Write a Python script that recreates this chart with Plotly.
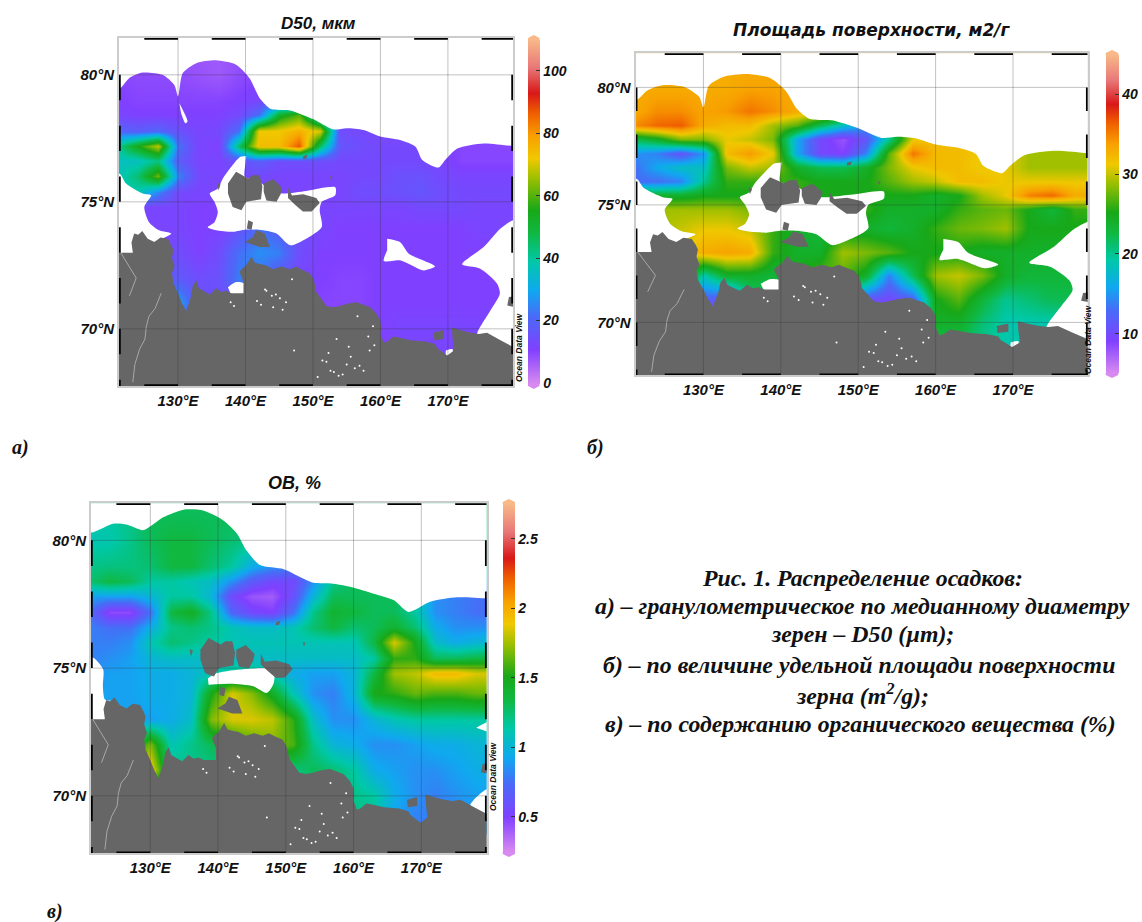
import plotly.graph_objects as go

LONS = [121,124,127,130,133,136,139,142,145,148,151,154,157,160,163,166,169,172,175,178,181]
LATS = [81,80,79,78.4,77.8,77.2,76.6,76,75.4,74.8,74,73,72,71,70,69]
LON_RANGE = [121.25,179.65]
LAT_RANGE = [67.75,81.45]

D50 = [
 [10,10,10,8,7,7,8,10,11,11,11,11,11,11,11,11,11,11,11,11,11],
 [10,9,9,9,8,7,9,10,11,11,11,11,11,11,11,11,11,11,11,11,11],
 [11,10,10,10,10,10,11,12,14,14,13,12,12,12,12,12,12,10,10,10,10],
 [12,11,11,11,11,11,13,22,52,60,28,13,12,12,12,12,11,10,10,10,10],
 [20,18,20,15,12,13,22,72,72,76,70,14,13,12,12,12,11,10,10,10,10],
 [40,55,68,22,12,11,45,74,74,87,45,16,14,13,13,13,12,10,10,10,10],
 [36,36,42,18,12,12,15,18,14,14,14,13,13,13,13,13,12,10,10,10,10],
 [36,44,62,25,13,12,13,13,12,12,12,12,13,13,15,15,13,12,12,12,12],
 [38,38,25,13,12,12,12,12,12,12,12,12,14,14,15,16,14,13,13,13,13],
 [12,12,12,12,11,11,12,12,12,12,12,12,12,12,12,13,13,13,12,12,12],
 [12,12,12,12,11,11,15,22,18,14,12,11,11,11,11,11,11,11,12,12,12],
 [12,12,12,14,11,14,22,26,24,14,11,11,11,11,11,11,11,11,11,11,11],
 [17,17,17,17,14,15,24,22,16,12,11,10,10,11,11,11,11,11,11,11,11],
 [29,29,29,29,15,14,14,14,14,11,10,10,10,11,11,11,11,11,11,11,11],
 [20,20,20,20,14,14,14,14,14,11,10,10,10,11,12,12,12,12,12,12,12],
 [20,20,20,20,14,14,14,14,14,11,10,10,10,11,12,12,12,12,12,12,12],
]

AREA = [
 [33,33,33,33,33,33,33,33,33,33,33,33,33,33,33,33,33,33,33,33,33],
 [33,33,33,33,33,33.5,33.5,33,32,32,32,32,32,32,32,32,32,32,32,32,32],
 [33,34.5,34.5,33.5,34,35.5,34.5,33,32,30,30,30,30,30,30,30,30,30,30,30,30],
 [34.5,36,36.5,33,32,32,29,27,22,18,15,20,30,30,30,30,30,30,30,30,30],
 [22,24,28,28,31,30,28,16,10,8,11,20,31,32,32,32,32,30,30,30,30],
 [15,14,11,15,32,34,31,16,10,9,14,27,35.5,32,32,31,31,29,29,29,29],
 [13,16,18,18,28,30,29,24,22,22,24,28,31,32,32,31,31,29,29,29,29],
 [13,13,14,20,26,26,26,26,25,25,25,27,29,30,32,32,31,31,31,31,31],
 [24,24,24,25,25,25,26,26,25,25,25,25,25,24,25,29,31,35,36,33,33],
 [29,29,29,29,29,28,27,26,26,26,26,24,24,24,26,27,27.5,25,23,26,26],
 [29,29,30,31,31,30,26,24,23,24,24,23,24,26,27.5,28,29,25,25,25,25],
 [30,30,30,33,33.5,33,26,24,24,29,28,27,25,25,25,24,24,24,24,24,24],
 [28,28,28,19,24,24,23,25,27,27,24,14,22,29,30,28,24,23,23,23,23],
 [12,12,12,12,11,20,22,24,24,20,11,10,12,25,27,23,20,21,22,22,22],
 [12,12,12,12,11,20,22,24,24,20,11,10,12,24,24,21,19,19,19,20,20],
 [12,12,12,12,11,20,22,24,24,20,11,10,12,22,22,20,19,19,19,20,20],
]

OM = [
 [1.15,1.15,1.2,1.3,1.3,1.3,1.3,1.3,1.3,1.3,1.3,1.3,1.3,1.3,1.3,1.3,1.3,1.3,1.3,1.3,1.3],
 [1.1,1.12,1.2,1.3,1.35,1.35,1.3,1.25,1.2,1.2,1.2,1.2,1.2,1.2,1.2,1.2,1.2,1.2,1.2,1.2,1.2],
 [1.2,1.22,1.22,1.25,1.35,1.35,1.25,1.15,.95,.85,.8,1.0,1.2,1.2,1.2,1.2,1.2,1.2,1.2,1.2,1.2],
 [1.25,1.35,1.3,1.15,1.15,1.1,1.05,.85,.65,.55,.55,.85,1.2,1.3,1.3,1.3,1.3,.9,.9,.9,.9],
 [.9,.9,.9,1.0,1.15,1.15,1.0,.55,.42,.4,.6,1.0,1.3,1.3,1.3,1.3,1.15,.85,.8,.75,.75],
 [.75,.45,.45,.75,1.35,1.45,1.2,.7,.55,.5,.75,1.2,1.4,1.35,1.3,1.3,1.15,.85,.8,.75,.75],
 [.8,.75,.75,.95,1.2,1.25,1.2,1.1,1.05,1.05,1.1,1.25,1.35,1.25,1.3,1.4,1.25,.95,.85,.85,.85],
 [.8,.8,.85,1.1,1.25,1.2,1.15,1.1,1.1,1.1,1.1,1.1,1.1,1.1,1.35,1.85,1.5,1.05,.95,1.0,1.05],
 [.8,.85,.9,1.0,1.05,1.05,1.05,1.05,1.05,1.05,1.05,1.05,1.05,1.05,1.15,1.55,1.55,1.3,1.3,1.35,1.35],
 [.85,.9,.9,.95,.95,1.0,1.1,1.2,1.2,1.1,.95,.9,.9,1.0,1.35,1.75,1.8,1.95,1.95,1.85,1.85],
 [.9,.9,.9,.95,.95,1.0,1.5,1.85,1.7,1.45,1.1,.85,.8,1.0,1.5,1.55,1.65,1.6,1.6,1.65,1.65],
 [.9,.9,.9,.9,.95,1.05,1.7,1.85,1.85,1.8,1.55,1.05,.85,.85,1.0,1.1,1.15,1.15,1.15,1.15,1.15],
 [1.2,1.2,1.2,1.7,1.1,1.2,1.3,1.45,1.6,1.7,1.6,1.2,1.0,.95,.85,.85,.9,.95,.95,1.0,1.0],
 [1.95,1.95,1.95,1.95,1.2,1.2,1.2,1.2,1.2,1.2,1.2,1.3,1.25,1.15,.95,.9,.85,.85,.9,.95,.95],
 [1.2,1.2,1.2,1.2,1.2,1.2,1.2,1.2,1.2,1.2,1.2,1.2,1.2,1.2,1.15,.95,.85,.8,.85,.9,.9],
 [1.2,1.2,1.2,1.2,1.2,1.2,1.2,1.2,1.2,1.2,1.2,1.2,1.2,1.2,1.15,.9,.8,.8,.85,.9,.9],
]

MAIN_LAND = [(120,73),(122,73),(123.3,73),(123.1,73.4),(123.5,73.75),(124.1,73.7),(124.7,73.85),(125.5,73.55),(126.5,73.42),(127.4,73.6),(128.5,73.55),(129,73.3),(129.3,73.1),(129.1,72.8),(129.5,72.45),(129.1,72.2),(129.3,71.8),(130,71.4),(130.6,71.0),(131.2,70.7),(131.6,71.0),(131.9,71.25),(132.2,71.7),(132.7,71.9),(133.1,71.6),(133.7,71.5),(134.7,71.35),(135.65,71.6),(136.4,71.45),(137.1,71.5),(137.9,71.4),(139.7,71.4),(139.7,71.85),(139.1,72.25),(139.6,72.4),(140.1,72.5),(140.9,72.85),(141.4,72.6),(142.1,72.55),(143,72.5),(144.1,72.35),(145.3,72.45),(146.6,72.35),(147.5,72.45),(148.6,72.3),(149.5,72.2),(150,72),(150.3,71.75),(150.5,71.45),(151.2,71.2),(152,70.9),(153,70.85),(154,70.9),(155.2,71.0),(156.5,71.05),(157.5,70.95),(158.5,70.85),(159.4,70.6),(160,70.3),(160.1,70.0),(160,69.8),(160.5,69.45),(161,69.5),(161.9,69.7),(162.9,69.65),(164.5,69.55),(166.7,69.5),(168.1,69.4),(168.4,69.25),(169.9,68.95),(170.9,69.15),(170.7,69.6),(170.6,70.05),(171.8,69.95),(173.4,69.85),(174.6,69.8),(175.8,69.85),(177.8,69.55),(181,69.1),(181,67),(120,67)]
ISLANDS = [
 [(137.4,75.72),(138.6,76.18),(140.4,75.92),(141.1,76.05),(142.1,76.05),(142.5,75.6),(142.3,75.1),(141.2,75.05),(140.1,75),(139.4,74.67),(138.1,74.8),(137.4,75.33)],
 [(142.7,75.72),(144.1,75.9),(145.4,75.55),(145.2,75.3),(144.6,75),(143.1,75.05),(142.7,75.4)],
 [(146.3,75.55),(146.9,75.25),(148.55,75.3),(150.5,75.15),(151,74.95),(149.8,74.62),(148.5,74.62),(147.3,74.9),(146.3,75.15)],
 [(140.4,74.28),(141.1,74.2),(140.9,73.9),(140.2,73.95)],
 [(141.6,73.88),(142.85,73.75),(143.6,73.22),(142.1,73.22),(140.6,73.36),(139.9,73.42),(141.1,73.62)],
 [(179.05,71.25),(181,71.32),(181,70.8),(178.8,70.92)],
 [(167.9,69.85),(169.4,69.95),(169.4,69.6),(168,69.55)],
 [(135.8,75.75),(136.3,75.68),(136,75.45)],
 [(148.6,76.8),(149.2,76.85),(149,76.7),(148.5,76.68)],
 [(152.5,76.0),(152.9,76.0),(152.7,75.85)],
]
RIVER_A = [(123.3,67.9),(123.6,68.6),(124.3,69.2),(125.1,69.6),(125.3,70.1),(125.7,70.5),(126.6,70.8),(127.5,71.4)]
RIVER_B = [(121.5,73),(123.8,72),(122.8,71.3)]
SPECK_LON = [141.7,143.9,142.3,145.1,143.1,146,144.5,142.9,145.5,144.1,152.6,150.7,155,153.1,151.4,156.2,154.4,152,157.5,155.6,153.8,156.9,152.3,155.3,153.5,158.4,156.6,158.9,147.2,137.8,138.3,146.9,158.2,159.1]
SPECK_LAT = [71.1,71.3,70.95,71.2,71.5,71.05,71.35,71.55,70.75,70.85,68.35,68.1,68.6,68.3,68.75,68.45,68.2,68.7,68.35,68.9,68.15,68.55,69.05,69.3,69.6,69.15,70.5,70.1,69.15,71.05,70.9,71.95,69.7,69.35]

TOP_AB = [(181,82),(120,82),(120,79.47),(121.4,79.47),(122.75,79.87),(124.75,80.09),(127.7,80),(129.45,79.6),(130,79.15),(130.7,80.07),(132.7,80.46),(135.65,80.57),(138.6,80.4),(140.6,79.87),(142.1,79.08),(143.8,78.65),(146.6,78.6),(150,78.26),(153,77.85),(155,77.9),(157.5,77.83),(160,77.57),(162.9,77.43),(165.2,77.17),(166.2,76.65),(168.6,76.35),(169.6,76.65),(171.4,77.1),(175.3,77.3),(179.7,77.2),(181,77.2)]
LEFT_AB = [(120,76.1),(121.4,76.1),(122.3,75.72),(124.75,75.33),(126,75.26),(125,74.8),(125.7,74.2),(127.2,73.88),(129,73.75),(126.5,73.42),(124.7,73.3),(123.5,72.8),(120,72.5)]
RIGHT_AB = [(181,74.28),(179.7,74.28),(177.8,73.95),(175.3,73.22),(172.1,72.54),(174.8,72.37),(177.3,71.78),(177.7,71.38),(176.3,70.72),(174.3,69.8),(174.3,69),(181,69)]
HOLE_AB = [(140.1,76.8),(139.1,76.75),(137.9,76.38),(136.65,75.92),(135.9,75.53),(134.7,75.33),(135.4,75),(135.9,74.6),(135.4,74.2),(134.4,74),(135.65,73.88),(138.1,73.82),(140.1,73.91),(142.6,73.88),(144.6,73.75),(146.6,73.29),(149,73.55),(151.3,74.01),(151,74.67),(151.3,75),(153.3,75.26),(153.3,75.57),(149,75.43),(145.3,75.33),(143.1,75.59),(141.6,75.86),(139.9,75.99),(139.9,76.32)]
HOLE2_AB = [(161,73.55),(162.9,73.42),(164.2,72.96),(168.1,72.46),(166.4,72.3),(162.9,72.7),(160.5,72.67),(161,73.09)]
SLIT_A = [(130.2,78.88),(131.4,78.16),(131.1,78.09),(130.45,78.49)]
YANA_AB = [(137.4,71.64),(138.6,71.84),(139.9,71.78),(139.9,71.3),(137.9,71.3)]
BAY_AB = [(169.7,69.15),(170.7,69.2),(170.5,68.8),(169.6,68.85)]

TOP_C = [(181,82),(120,82),(120,80.32),(121.6,80.32),(124.5,80.65),(126.5,80.62),(129,80.4),(131.9,80.9),(134.9,81.2),(137.8,81.17),(140.8,80.78),(142.8,80.26),(144.2,79.6),(146.2,79.03),(149.7,78.87),(152.1,78.57),(154.1,78.34),(157,78.3),(159.5,78.18),(162.5,77.95),(165.9,77.66),(168.1,77.2),(171.3,77.6),(175.3,77.77),(179.6,77.73),(181,77.73)]
LEFT_C = [(120,75.4),(121.6,75.4),(123.05,74.94),(123,74.29),(123.3,73.77),(124.3,73.7),(123.3,73),(120,72.5)]
HOLE_C = [(138.5,74.6),(139.55,74.78),(143.25,74.94),(148.2,74.94),(148.2,74.4),(147.2,74.03),(145.2,74.29),(141.8,74.39),(138.6,74.35)]
NOTCH_C = [(178.1,72.66),(181,73),(181,72.4)]
CORNER_C = [(181,70.26),(179.6,70.26),(177.2,69.6),(181,69)]

COLORS = ["#d88af0","#8040ff","#4a6af8","#10a8f0","#00c8a8","#10b840","#18a818","#a0c000","#f0c800","#f8a000","#f06000","#d81818","#e87878","#f8b888"]
STOPS = [0,.10,.195,.27,.355,.44,.505,.6,.655,.72,.785,.845,.92,1]
COLORSCALE = [[s,c] for s,c in zip(STOPS,COLORS)]
CBAR_A = [-0.3,109.8]
CBAR_B = [5.1,44.9]
CBAR_C = [0.246,2.752]
TICKS_A = [0,20,40,60,80,100]
TICKS_B = [10,20,30,40]
TICKS_C = [0.5,1,1.5,2,2.5]
TICKTEXT_C = ["0.5","1","1.5","2","2.5"]

W,H = 1142,922
px = lambda x: x/W
py = lambda y: 1-y/H
SANS = "Liberation Sans"
SERIF = "Liberation Serif"
bi = lambda s: f"<b><i>{s}</i></b>"

PANELS = [
 dict(z=D50,box=(119,513,38,386),bar=(528,539.5,40,384),rng=CBAR_A,ticks=TICKS_A,text=[str(t) for t in TICKS_A],
      white=[TOP_AB,LEFT_AB,RIGHT_AB,HOLE_AB,HOLE2_AB,SLIT_A,YANA_AB,BAY_AB],odv=(519,347)),
 dict(z=AREA,box=(635.7,1087.7,53.3,375.3),bar=(1105.7,1118.3,55,373),rng=CBAR_B,ticks=TICKS_B,text=[str(t) for t in TICKS_B],
      white=[TOP_AB,LEFT_AB,RIGHT_AB,HOLE_AB,HOLE2_AB,YANA_AB,BAY_AB],odv=(1095,339)),
 dict(z=OM,box=(91,486.7,503.3,853.3),bar=(502.7,515,504,852),rng=CBAR_C,ticks=TICKS_C,text=TICKTEXT_C,
      white=[TOP_C,LEFT_C,HOLE_C,NOTCH_C,CORNER_C],odv=(493,813)),
]

fig = go.Figure()
layout = {}
shapes = []
annos = []

for i,p in enumerate(PANELS):
    n = "" if i == 0 else str(i+1)
    xn,yn = "x"+n,"y"+n
    l,r,t,b = p["box"]
    bl,br,bt,bb = p["bar"]
    layout["xaxis"+n] = dict(domain=[px(l),px(r)],range=LON_RANGE,anchor=yn,tickmode="array",
        tickvals=[130,140,150,160,170],ticktext=[bi(f"{v}°E") for v in [130,140,150,160,170]],
        showgrid=False,zeroline=False,ticks="",showline=True,linecolor="#cccccc",linewidth=2,mirror=True,
        tickfont=dict(family=SANS,size=15,color="#111"))
    layout["yaxis"+n] = dict(domain=[py(b),py(t)],range=LAT_RANGE,anchor=xn,tickmode="array",
        tickvals=[70,75,80],ticktext=[bi(f"{v}°N") for v in [70,75,80]],
        showgrid=False,zeroline=False,ticks="",showline=True,linecolor="#cccccc",linewidth=2,mirror=True,
        tickfont=dict(family=SANS,size=15,color="#111"))
    fig.add_trace(go.Heatmap(x=LONS,y=LATS,z=p["z"],xaxis=xn,yaxis=yn,zsmooth="best",colorscale=COLORSCALE,
        zmin=p["rng"][0],zmax=p["rng"][1],hoverinfo="skip",
        colorbar=dict(x=px(bl),xanchor="left",y=py(bt),yanchor="top",lenmode="pixels",len=bb-bt,
            thicknessmode="pixels",thickness=br-bl,xpad=0,ypad=0,outlinewidth=0,
            tickmode="array",tickvals=p["ticks"],ticktext=[bi(s) for s in p["text"]],ticks="inside",ticklen=4,tickcolor="#333",
            tickfont=dict(family=SANS,size=14,color="#111"))))
    for poly in p["white"]:
        fig.add_trace(go.Scatter(x=[q[0] for q in poly],y=[q[1] for q in poly],xaxis=xn,yaxis=yn,mode="lines",
            line=dict(width=0,shape="spline",smoothing=0.7),fill="toself",fillcolor="white",hoverinfo="skip"))
    for poly in [MAIN_LAND]+ISLANDS:
        fig.add_trace(go.Scatter(x=[q[0] for q in poly],y=[q[1] for q in poly],xaxis=xn,yaxis=yn,mode="none",
            fill="toself",fillcolor="#666666",hoverinfo="skip"))
    for riv in [RIVER_A,RIVER_B]:
        fig.add_trace(go.Scatter(x=[q[0] for q in riv],y=[q[1] for q in riv],xaxis=xn,yaxis=yn,mode="lines",
            line=dict(color="#a8a8a8",width=1),hoverinfo="skip"))
    fig.add_trace(go.Scatter(x=SPECK_LON,y=SPECK_LAT,xaxis=xn,yaxis=yn,mode="markers",
        marker=dict(color="white",size=2),hoverinfo="skip"))
    gx,gy = [],[]
    for v in [130,140,150,160,170]:
        gx += [v,v,None]; gy += [LAT_RANGE[0],LAT_RANGE[1],None]
    for v in [70,75,80]:
        gx += [LON_RANGE[0],LON_RANGE[1],None]; gy += [v,v,None]
    fig.add_trace(go.Scatter(x=gx,y=gy,xaxis=xn,yaxis=yn,mode="lines",
        line=dict(color="rgba(50,50,50,0.3)",width=1),hoverinfo="skip"))
    fx,fy = [],[]
    for a0 in [125,135,145,155,165,175]:
        a1 = min(a0+5,LON_RANGE[1])
        for la in LAT_RANGE:
            fx += [a0,a1,None]; fy += [la,la,None]
    for a0 in [68,70,72,74,76,78,80]:
        s0 = max(a0-1,LAT_RANGE[0])
        for lo in LON_RANGE:
            fx += [lo,lo,None]; fy += [s0,a0,None]
    fig.add_trace(go.Scatter(x=fx,y=fy,xaxis=xn,yaxis=yn,mode="lines",cliponaxis=False,
        line=dict(color="black",width=3.5),hoverinfo="skip"))
    mid = (bl+br)/2
    shapes.append(dict(type="path",xref="paper",yref="paper",line=dict(width=0),fillcolor=COLORS[-1],
        path=f"M {px(bl)} {py(bt)} L {px(bl)} {py(bt-2)} L {px(mid)} {py(bt-5)} L {px(br)} {py(bt-2)} L {px(br)} {py(bt)} Z"))
    shapes.append(dict(type="path",xref="paper",yref="paper",line=dict(width=0),fillcolor=COLORS[0],
        path=f"M {px(bl)} {py(bb)} L {px(bl)} {py(bb+2)} L {px(mid)} {py(bb+5)} L {px(br)} {py(bb+2)} L {px(br)} {py(bb)} Z"))
    annos.append(dict(x=px(p["odv"][0]),y=py(p["odv"][1]),xref="paper",yref="paper",text=bi("Ocean Data View"),
        textangle=-90,showarrow=False,font=dict(family=SANS,size=8.5,color="#111")))

def note(x,y,text,size,family=SANS,color="#111"):
    annos.append(dict(x=px(x),y=py(y),xref="paper",yref="paper",text=bi(text),showarrow=False,
        font=dict(family=family,size=size,color=color),xanchor="center",yanchor="middle"))

note(318,23,"D50, мкм",17)
note(871,30,"Площадь поверхности, м2/г",17,"DejaVu Sans")
note(294,483,"ОВ, %",18)
note(20,447,"а)",20,SERIF)
note(595,447,"б)",20,SERIF)
note(55,911,"в)",20,SERIF)
note(862,578,"Рис. 1. Распределение осадков:",23.8,SERIF)
note(862,606,"а) – гранулометрическое по медианному диаметру",23.8,SERIF)
note(862,634,"зерен – D50 (µm);",23.8,SERIF)
note(859,665,"б) – по величине удельной площади поверхности",23.8,SERIF)
note(862,694,"зерна (m<sup>2</sup>/g);",23.8,SERIF)
note(860,724,"в) – по содержанию органического вещества (%)",23.8,SERIF)

fig.update_layout(width=W,height=H,margin=dict(l=0,r=0,t=0,b=0,autoexpand=False),paper_bgcolor="white",
    plot_bgcolor="white",showlegend=False,shapes=shapes,annotations=annos,**layout)
fig.write_html("out.html",config=dict(displayModeBar=False),post_script="document.body.style.margin='0';")
